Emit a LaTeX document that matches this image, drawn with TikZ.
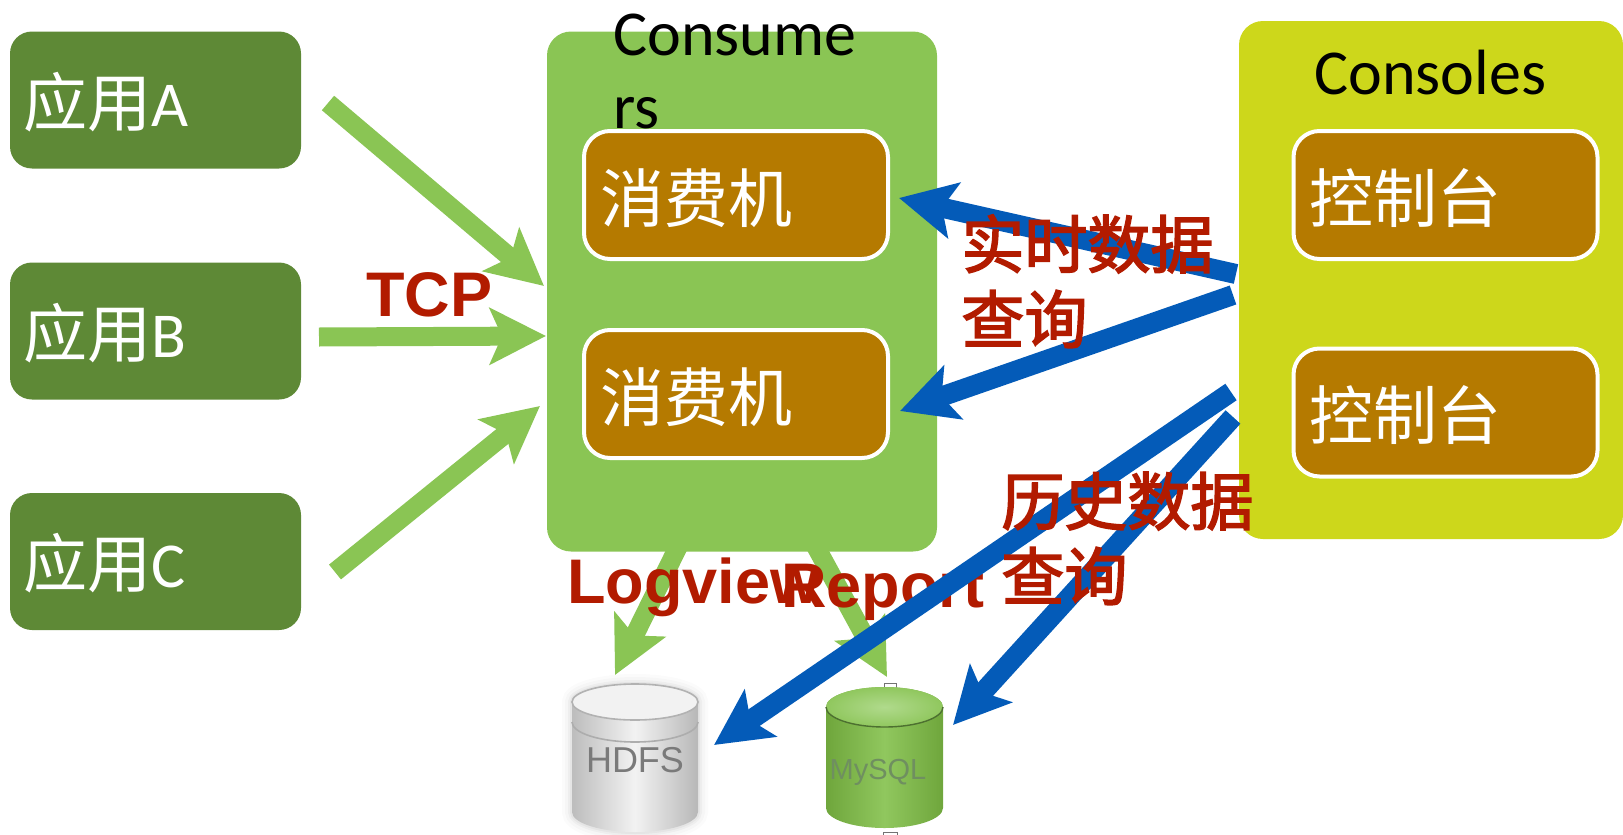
\documentclass[tikz,border=0pt]{standalone}
\usepackage{fontspec}
\setmainfont{Carlito}
\newfontfamily\cjk{Noto Sans CJK SC}
\newfontfamily\cjkm[FakeBold=2.5]{Noto Sans CJK SC}
\newfontfamily\lab{Liberation Sans}
\usetikzlibrary{arrows.meta}
\definecolor{appg}{HTML}{5E8936}
\definecolor{consg}{HTML}{8AC554}
\definecolor{yel}{HTML}{CDD71B}
\definecolor{brn}{HTML}{B57A00}
\definecolor{lblr}{HTML}{B21B00}
\definecolor{blu}{HTML}{045BB8}
\definecolor{myl}{HTML}{6FA63C}
\definecolor{mym}{HTML}{90C75E}
\definecolor{myt}{HTML}{B0DA8C}
\definecolor{myr}{HTML}{4D7030}
\definecolor{myx}{HTML}{6F8F60}
\tikzset{
  appbox/.style={fill=appg,rounded corners=11pt,minimum width=145.5pt,minimum height=68.5pt,inner sep=0pt,inner xsep=7pt,text=white,font=\fontsize{32}{36}\selectfont,align=left,text width=131.5pt,text height=30pt,text depth=4pt},
  innerbox/.style={fill=brn,draw=white,line width=2pt,rounded corners=13pt,minimum width=152pt,minimum height=64pt,inner sep=0pt,inner xsep=8pt,text=white,font=\cjk\fontsize{32}{36}\selectfont,text width=136pt,align=left,text height=31pt,text depth=4pt},
  groupbox/.style={rounded corners=12pt,inner sep=0pt},
  tx/.style={inner sep=0pt,anchor=base west},
  ptr/.style={line width=9.5pt,-{Stealth[length=28pt,width=28pt,inset=6pt]}},
  gptr/.style={ptr,draw=consg},
  bptr/.style={ptr,draw=blu,line width=10pt},
  latin/.style={tx,text=black,font=\fontsize{32}{36.5}\selectfont,align=left},
  redlat/.style={tx,text=lblr,font=\lab\bfseries\fontsize{31.5}{36}\selectfont},
  redcjk/.style={tx,text=lblr,font=\cjkm\fontsize{31.5}{37.5}\selectfont,align=left},
}
\begin{document}
\begin{tikzpicture}[x=0.5pt,y=-0.5pt]
\useasboundingbox (0,0) rectangle (1623,835);
% free ends
\coordinate (as) at (328,103); \coordinate (at) at (544,286);
\coordinate (bs) at (319,337); \coordinate (bt) at (546,336);
\coordinate (cs) at (335,572); \coordinate (ct) at (540,406);
\coordinate (ls) at (679,545); \coordinate (lt) at (615,675);
\coordinate (rs) at (815,545); \coordinate (rt) at (887,677);
\coordinate (q1s) at (1236,274); \coordinate (q1t) at (899,198);
\coordinate (q2s) at (1233,295); \coordinate (q2t) at (900,411);
\coordinate (h1s) at (1231,392); \coordinate (h1t) at (714,745);
\coordinate (h2s) at (1233,417); \coordinate (h2t) at (953,725);
% groups
\node[groupbox,fill=yel,minimum width=192pt,minimum height=259pt] (consoles) at (1431,280) {};
\draw[gptr] (as) -- (at);
\draw[gptr] (bs) -- (bt);
\draw[gptr] (cs) -- (ct);
\draw[gptr] (ls) -- (lt);
\draw[gptr] (rs) -- (rt);
\node[groupbox,fill=consg,minimum width=195pt,minimum height=260pt] (consumers) at (742,291.5) {};
% apps
\node[appbox] (appa) at (155.5,100) {{\cjk 应用}A};
\node[appbox] (appb) at (155.5,331) {{\cjk 应用}B};
\node[appbox] (appc) at (155.5,561.5) {{\cjk 应用}C};
% inner boxes
\node[innerbox] (c1) at (736,195) {消费机};
\node[innerbox] (c2) at (736,394) {消费机};
\node[innerbox] (k1) at (1445.5,195) {控制台};
\node[innerbox] (k2) at (1445.5,412.5) {控制台};
\node[latin] (consumerstitle) at (613,128) {Consume\\rs};
\node[latin] (consolestitle) at (1314,94) {Consoles};
% HDFS cylinder
\foreach \w/\o in {10/0.015,7/0.02,4/0.03,2/0.04}
  \draw[black,line width=\w pt,opacity=\o] (572,702) -- (572,812) arc[start angle=180,end angle=0,x radius=63,y radius=20] -- (698,702) arc[start angle=0,end angle=-180,x radius=63,y radius=18] -- cycle;
\shade[left color=black!26,right color=black!28,middle color=black!5] (572,702) -- (572,812) arc[start angle=180,end angle=0,x radius=63,y radius=20] -- (698,702) arc[start angle=0,end angle=-180,x radius=63,y radius=18] -- cycle;
\draw[black!32,line width=0.8pt] (572,722) arc[start angle=180,end angle=0,x radius=63,y radius=20];
\fill[black!5,draw=black!30,line width=0.8pt] (635,702) ellipse[x radius=63,y radius=18];
\node[inner sep=0pt,text=black!52,font=\lab\fontsize{18}{20}\selectfont] (hdfs) at (635,760) {HDFS};
% MySQL cylinder
\fill[white,draw=black!55,line width=0.5pt] (884,683) rectangle (896,692);
\fill[white,draw=black!55,line width=0.5pt] (883,832) rectangle (897,835);
\shade[left color=myl,right color=myl,middle color=mym] (826,707) -- (826,808) arc[start angle=180,end angle=0,x radius=58.5,y radius=20] -- (943,707) arc[start angle=0,end angle=-180,x radius=58.5,y radius=20] -- cycle;
\shade[inner color=myt,outer color=mym] (884.5,707) ellipse[x radius=58.5,y radius=20];
\draw[myr,line width=0.7pt] (826,707) arc[start angle=180,end angle=0,x radius=58.5,y radius=20];
\node[inner sep=0pt,text=myx,font=\lab\fontsize{14.5}{18}\selectfont] (mysql) at (878,772) {MySQL};
% labels under blue
\node[redlat] (tcp) at (366,316) {TCP};
\node[redlat] (logview) at (567,603) {Logview};
\node[redlat] (report) at (781,607) {Report};
% blue arrows
\draw[bptr] (q1s) -- (q1t);
\draw[bptr] (q2s) -- (q2t);
\draw[bptr] (h1s) -- (h1t);
\draw[bptr] (h2s) -- (h2t);
% labels over blue
\node[redcjk] (rt1) at (961,343) {实时数据\\查询};
\node[redcjk] (hist) at (1001,600) {历史数据\\查询};
\end{tikzpicture}
\end{document}
